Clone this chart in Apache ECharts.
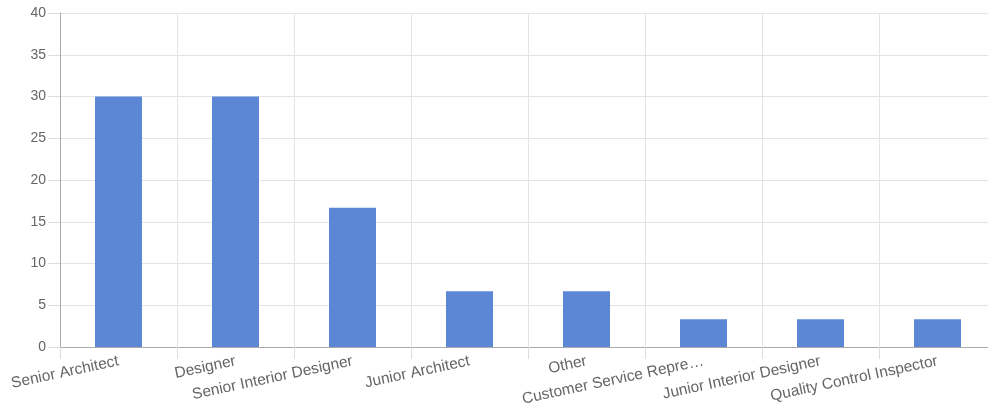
<!DOCTYPE html>
<html>
<head>
<meta charset="utf-8">
<script src="https://cdn.jsdelivr.net/npm/echarts@6/dist/echarts.min.js"></script>
<style>html,body{margin:0;padding:0;background:#fff;overflow:hidden;width:988px;height:419px;}#c{width:996px;height:419px;}</style>
</head>
<body>
<div id="c"></div>
<script>
const categories = ["Senior Architect","Designer","Senior Interior Designer","Junior Architect","Other","Customer Service Representative","Junior Interior Designer","Quality Control Inspector"];
const values = [30, 30, 16.67, 6.67, 6.67, 3.33, 3.33, 3.33];
const yTicks = {min: 0, max: 40, interval: 5};

const chart = echarts.init(document.getElementById('c'), null, {renderer: 'canvas'});
chart.setOption({
  animation: false,
  grid: {left: 60, top: 13, right: 0, bottom: 72, containLabel: false},
  xAxis: {
    type: 'category',
    data: categories,
    boundaryGap: true,
    axisLine: {show: true, lineStyle: {color: '#aaaaaa', width: 1}},
    axisTick: {show: true, length: 12, lineStyle: {color: '#dddddd'}},
    splitLine: {show: true, lineStyle: {color: '#e4e4e4', width: 1}},
    axisLabel: {
      interval: 0, rotate: 12, margin: 14, color: '#666666',
      fontFamily: 'Liberation Sans, Arial, sans-serif', fontSize: 15.5,
      formatter: function (v) { return v.length > 25 ? v.slice(0, 22) + '\u2026' : v; }
    }
  },
  yAxis: {
    type: 'value',
    min: yTicks.min, max: yTicks.max, interval: yTicks.interval,
    axisLine: {show: true, lineStyle: {color: '#aaaaaa', width: 1}},
    axisTick: {show: true, length: 12, lineStyle: {color: '#dddddd'}},
    splitLine: {show: true, lineStyle: {color: '#e4e4e4', width: 1}},
    axisLabel: {margin: 14, color: '#666666', fontFamily: 'Liberation Sans, Arial, sans-serif', fontSize: 14}
  },
  series: [{
    type: 'bar',
    data: values,
    barWidth: 47,
    itemStyle: {color: '#5b87d5'}
  }]
});
</script>
</body>
</html>
